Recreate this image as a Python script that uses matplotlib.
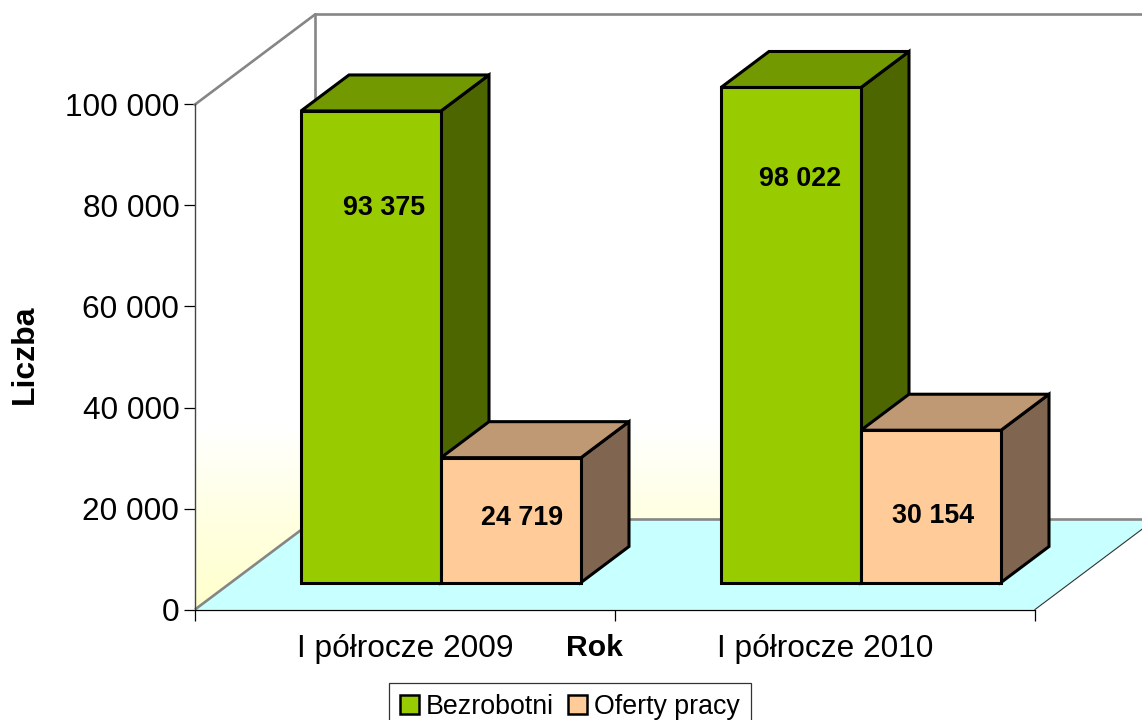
import matplotlib
matplotlib.use("Agg")
import matplotlib.pyplot as plt
import numpy as np
from matplotlib.patches import Polygon, Patch
from matplotlib.colors import LinearSegmentedColormap
from matplotlib.ticker import FuncFormatter

categories = ["I półrocze 2009", "I półrocze 2010"]
series_names = ["Bezrobotni", "Oferty pracy"]
bezrobotni = [93375, 98022]
oferty = [24719, 30154]
y_ticks = [0, 20000, 40000, 60000, 80000, 100000]

plt.rcParams["font.family"] = ["Liberation Sans", "DejaVu Sans"]

W, H = 1142, 720
X0, Y0, X1, Y1 = 195, 609.5, 1035, 104.5
fig = plt.figure(figsize=(W / 100, H / 100), dpi=100, facecolor="white")
ax = fig.add_axes([X0 / W, 1 - Y0 / H, (X1 - X0) / W, (Y0 - Y1) / H], facecolor="none")
ax.set_xlim(0, 2)
ax.set_ylim(0, 100000)
for s in ax.spines.values():
    s.set_visible(False)

# 3D oblique depth, in data units
DX = 120 / 420
DY = 90 / 505 * 100000
YMAX = 100000

# walls with gradient
wall_poly = Polygon([(0, 0), (DX, DY), (2 + DX, DY), (2 + DX, YMAX + DY), (DX, YMAX + DY), (0, YMAX)],
                    closed=True, transform=ax.transData, facecolor="none", edgecolor="none")
ax.add_patch(wall_poly)
cmap = LinearSegmentedColormap.from_list("wall", ["#FFFFCC", "#FFFFE2", "#FFFFFF"])
grad = np.linspace(0, 1, 256).reshape(-1, 1)
im = ax.imshow(grad, origin="lower", cmap=cmap, aspect="auto", vmin=0, vmax=1,
               extent=(0, 2 + DX, 0, 36000), zorder=1)
im.set_clip_path(wall_poly)
ax.set_xlim(0, 2)
ax.set_ylim(0, 100000)

# floor
ax.add_patch(Polygon([(0, 0), (2, 0), (2 + DX, DY), (DX, DY)], closed=True, facecolor="#C8FFFF",
                     edgecolor="none", clip_on=False, zorder=2))
# wall edges
wall_c = "#868686"
ax.plot([0, DX, 2 + DX], [0, DY, DY], color=wall_c, lw=1.9, clip_on=False, zorder=3, solid_capstyle="butt")
ax.plot([0, DX, 2 + DX], [YMAX, YMAX + DY, YMAX + DY], color=wall_c, lw=1.9, clip_on=False, zorder=3)
ax.plot([DX, DX], [DY, YMAX + DY], color=wall_c, lw=1.9, clip_on=False, zorder=3)
ax.plot([0, 0], [0, YMAX], color="#444444", lw=1.0, clip_on=False, zorder=3)
ax.plot([0, 2], [0, 0], color="black", lw=0.9, clip_on=False, zorder=3)
ax.plot([2, 2 + DX], [0, DY], color="#333333", lw=0.8, clip_on=False, zorder=3)


def bar3d(x, w, value, front, top, side, z):
    bx0, bx1 = x + 0.3 * DX, x + w + 0.3 * DX
    by0, by1 = 0.3 * DY, value + 0.3 * DY
    ddx, ddy = 0.4 * DX, 0.4 * DY
    kw = dict(closed=True, edgecolor="black", lw=2.2, joinstyle="miter", clip_on=False, zorder=z)
    ax.add_patch(Polygon([(bx1, by0), (bx1 + ddx, by0 + ddy), (bx1 + ddx, by1 + ddy), (bx1, by1)],
                         facecolor=side, **kw))
    ax.add_patch(Polygon([(bx0, by1), (bx1, by1), (bx1 + ddx, by1 + ddy), (bx0 + ddx, by1 + ddy)],
                         facecolor=top, **kw))
    ax.add_patch(Polygon([(bx0, by0), (bx1, by0), (bx1, by1), (bx0, by1)], facecolor=front, **kw))


green = ("#99CC00", "#739900", "#4D6600")
peach = ("#FFCC99", "#BF9973", "#806650")
BW = 1 / 3
for i in range(len(categories)):
    start = i + (1 - 2 * BW) / 2
    bar3d(start, BW, bezrobotni[i], *green, 5 + i * 2)
    bar3d(start + BW, BW, oferty[i], *peach, 6 + i * 2)

# data labels (placed by offset from the bar's front face centre, in pixels)
label_off = [(13, 0), (11, 0), (9, 0), (2, 0)]
label_y = [79600, 18050, 85300, 18600]
vals = [bezrobotni[0], oferty[0], bezrobotni[1], oferty[1]]
bx = [0 + 1 / 6 + BW / 2, 0 + 1 / 6 + BW * 1.5, 1 + 1 / 6 + BW / 2, 1 + 1 / 6 + BW * 1.5]
for v, xc, (ox, _), ly in zip(vals, bx, label_off, label_y):
    ax.text(xc + 0.3 * DX + ox / 420, ly, f"{v:,}".replace(",", " "), ha="center", va="center",
            fontsize=19.4, fontweight="bold", color="black", zorder=20)

# axes
ax.set_yticks(y_ticks)
ax.yaxis.set_major_formatter(FuncFormatter(lambda v, p: f"{int(v):,}".replace(",", " ")))
ax.tick_params(axis="y", length=8, width=0.9, labelsize=22.7, pad=3.3, color="black")
ax.set_xticks([0, 1, 2])
ax.set_xticklabels([])
ax.set_xticks([0.5, 1.5], labels=categories, minor=True)
ax.tick_params(axis="x", which="major", length=8, width=0.9, color="black")
ax.tick_params(axis="x", which="minor", length=0, labelsize=22.8, pad=17.5)
ax.set_xlabel("Rok", fontsize=21.7, fontweight="bold")
ax.xaxis.set_label_coords((594.5 - X0) / (X1 - X0), -(634 - Y0) / (Y0 - Y1), transform=ax.transAxes)
ax.xaxis.label.set_va("top")
ax.set_ylabel("Liczba", fontsize=23, fontweight="bold")
ax.yaxis.set_label_coords((25 - X0) / (X1 - X0), (Y0 - 354.5) / (Y0 - Y1), transform=ax.transAxes)
ax.yaxis.label.set_va("center")

# legend
handles = [Patch(facecolor=green[0], edgecolor="black", lw=1.8),
           Patch(facecolor=peach[0], edgecolor="black", lw=1.8)]
leg = fig.legend(handles, series_names, loc="upper center",
                 bbox_to_anchor=(570 / W, 1 - 682.5 / H), ncol=2, fontsize=19.3,
                 frameon=True, fancybox=False, edgecolor="#333333", framealpha=1,
                 handlelength=0.7, handleheight=0.7, handletextpad=0.25, columnspacing=0.55,
                 borderpad=0.42, borderaxespad=0)
leg.get_frame().set_linewidth(0.9)

fig.savefig("out.png", dpi=100, facecolor="white")
